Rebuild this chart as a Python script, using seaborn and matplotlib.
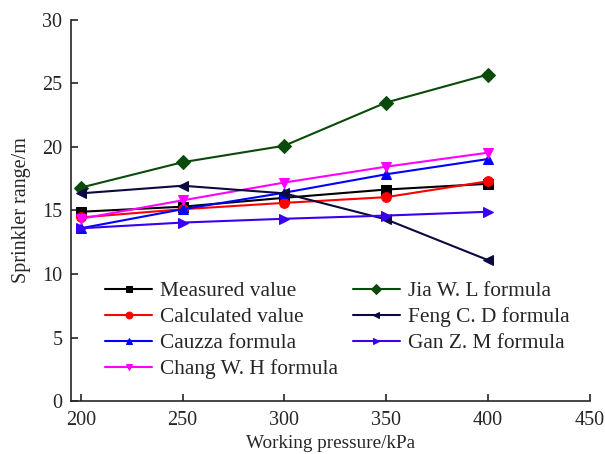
import matplotlib
matplotlib.use("Agg")
import matplotlib.pyplot as plt
import seaborn as sns
import pandas as pd

pressure = [200, 250, 300, 350, 400]
measured = [14.9, 15.3, 16.0, 16.65, 17.1]
calculated = [14.45, 15.1, 15.6, 16.05, 17.3]
cauzza = [13.6, 15.1, 16.4, 17.85, 19.05]
chang = [14.35, 15.8, 17.2, 18.45, 19.55]
jia = [16.8, 18.8, 20.1, 23.5, 25.7]
feng = [16.35, 16.95, 16.35, 14.3, 11.1]
gan = [13.6, 14.05, 14.35, 14.6, 14.9]

labels = ["Measured value", "Calculated value", "Cauzza formula", "Chang W. H formula",
          "Jia W. L formula", "Feng C. D formula", "Gan Z. M formula"]
series = [measured, calculated, cauzza, chang, jia, feng, gan]
colors = ["#000000", "#FF0000", "#0000FF", "#FF00FF", "#0A4A0A", "#0A0A40", "#3A00F0"]
markers = ["s", "o", "^", "v", "D", "<", ">"]

sns.set_style("ticks")
plt.rcParams["font.family"] = ["Liberation Serif", "DejaVu Serif"]

fig = plt.figure(figsize=(6.05, 4.54), dpi=100)
ax = fig.add_axes([0.1167, 0.1167, 0.8578, 0.8393])

for lab, vals, c, m in zip(labels, series, colors, markers):
    df = pd.DataFrame({"x": pressure, "y": vals})
    sns.lineplot(data=df, x="x", y="y", ax=ax, color=c, marker=m, markersize=7,
                 markeredgecolor=c, linewidth=1.5, label=lab)

ax.set_xlim(195, 450)
ax.set_ylim(0, 30)
ax.set_xticks([200, 250, 300, 350, 400, 450])
ax.set_yticks([0, 5, 10, 15, 20, 25, 30])
ax.tick_params(direction="in", labelsize=14.5, length=5, width=1.2)
ax.tick_params(axis="x", pad=7)
ax.tick_params(axis="y", pad=6)
for s in ["top", "right"]:
    ax.spines[s].set_visible(False)
for s in ["left", "bottom"]:
    ax.spines[s].set_linewidth(1.2)
ax.set_xlabel("Working pressure/kPa", fontsize=13.8, labelpad=4)
ax.set_ylabel("Sprinkler range/m", fontsize=14.5, labelpad=8)

ax.legend(loc="lower left", bbox_to_anchor=(0.05, 0.035), ncol=2, frameon=False,
          fontsize=15.4, handlelength=2.2, columnspacing=0.7, labelspacing=0.28,
          handletextpad=0.36, borderaxespad=0, markerscale=0.7)

fig.savefig("out.png", dpi=100)
